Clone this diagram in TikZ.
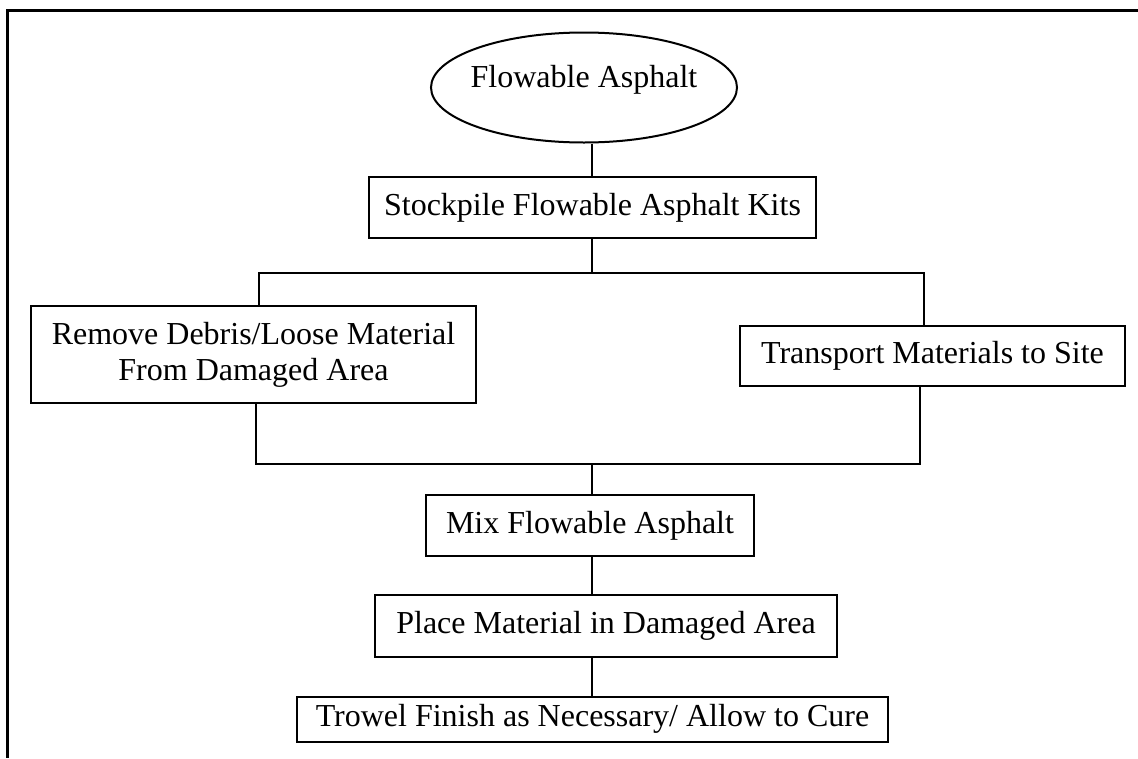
\documentclass[tikz,border=0pt]{standalone}
\usepackage{fontspec}
\setmainfont{Liberation Serif}
\usetikzlibrary{shapes.geometric}
\begin{document}
\begin{tikzpicture}[x=1pt, y=-1pt,
  every node/.style={font=\fontsize{32}{36}\selectfont, inner sep=0pt},
  stepbox/.style={draw, rectangle, line width=2pt, align=center},
  link/.style={line width=2pt},
  frameline/.style={line width=3pt}]
\useasboundingbox (0,0) rectangle (1138,758);

% outer frame (top and left sides)
\coordinate (ftr) at (1138,10);
\coordinate (ftl) at (7,10);
\coordinate (fbl) at (7,758);
\draw[frameline] (ftr) -- (ftl) -- (fbl);

% start ellipse (negative x padding so the fixed size wins over the text width)
\node[draw, ellipse, line width=2pt, minimum width=306pt, minimum height=110pt,
      inner xsep=-12pt, text height=22pt, text depth=22pt] (start) at (584,87.5) {Flowable Asphalt};

% process steps
\node[stepbox, minimum width=447pt, minimum height=61pt] (stock) at (592.5,207.5) {Stockpile Flowable Asphalt Kits};
\node[stepbox, minimum width=445pt, minimum height=97pt] (remove) at (253.5,354.5) {Remove Debris/Loose Material\\From Damaged Area};
\node[stepbox, minimum width=385pt, minimum height=60pt] (transport) at (932.5,356) {Transport Materials to Site};
\node[stepbox, minimum width=328pt, minimum height=61pt] (mix) at (590,525.5) {Mix Flowable Asphalt};
\node[stepbox, minimum width=462pt, minimum height=62pt] (place) at (606,626) {Place Material in Damaged Area};
\node[stepbox, minimum width=591pt, minimum height=45pt] (trowel) at (592.5,719) {Trowel Finish as Necessary/ Allow to Cure};

% junction points
\coordinate (splitC) at (592,273);
\coordinate (splitL) at (259,273);
\coordinate (splitR) at (924,273);
\coordinate (joinL) at (256,464);
\coordinate (joinR) at (920,464);
\coordinate (joinC) at (592,464);

% connectors
\draw[link] (start.south -| splitC) -- (stock.north -| splitC);
\draw[link] (stock.south -| splitC) -- (splitC);
\draw[link] (remove.north -| splitL) -- (splitL) -- (splitR) -- (transport.north -| splitR);
\draw[link] (remove.south -| joinL) -- (joinL) -- (joinR) -- (transport.south -| joinR);
\draw[link] (joinC) -- (mix.north -| joinC);
\draw[link] (mix.south -| joinC) -- (place.north -| joinC);
\draw[link] (place.south -| joinC) -- (trowel.north -| joinC);
\end{tikzpicture}
\end{document}
